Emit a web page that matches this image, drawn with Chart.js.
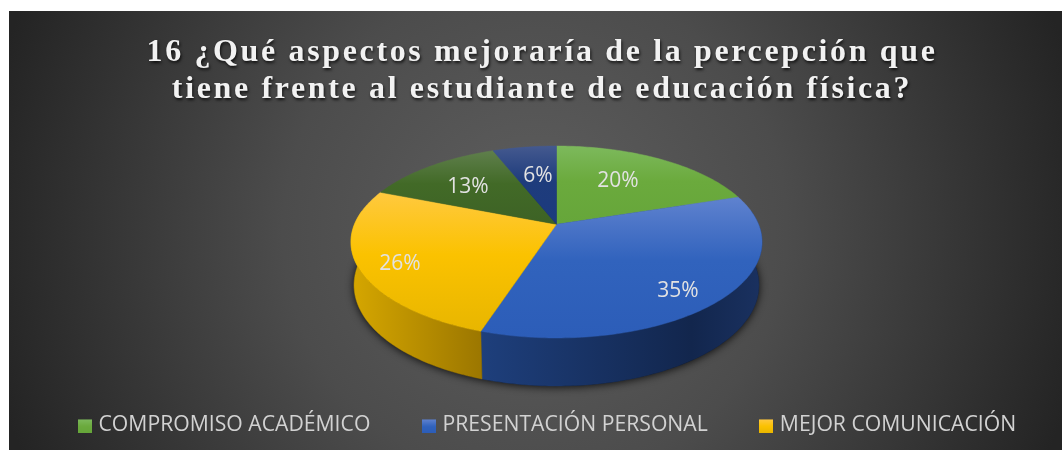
<!DOCTYPE html>
<html><head><meta charset="utf-8">
<style>html,body{margin:0;padding:0;background:#fff}#w{width:1062px;height:450px;position:relative}</style>
<script src="https://cdn.jsdelivr.net/npm/chart.js@4/dist/chart.umd.min.js"></script>
</head><body><div id="w"><canvas id="c" width="1062" height="450"></canvas></div>
<script>
const titleLines = ['16 ¿Qué aspectos mejoraría de la percepción que', 'tiene frente al estudiante de educación física?'];
const categories = ['COMPROMISO ACADÉMICO', 'PRESENTACIÓN PERSONAL', 'MEJOR COMUNICACIÓN', '', ''];
const values = [20, 35, 26, 13, 6];
const baseColors = ['#6BAA3D', '#3163BD', '#FBC200', '#426A27', '#1E3C7C'];
const topColors = ['#7DB95C', '#5F82CF', '#FFC93F', '#5F7F4C', '#44598F'];
const bottomColors = ['#66A63A', '#2C5DB8', '#E8B600', '#3D6225', '#1C3A7E'];
const wallStops = [
  [[0,'#5a8a30'],[1,'#4a7228']],
  [[0,'#1E3F7C'],[0.75,'#12264D'],[1,'#1A3160']],
  [[0,'#D6A700'],[1,'#9C7700']],
  [[0,'#2f4a1b'],[1,'#2f4a1b']],
  [[0,'#14294f'],[1,'#14294f']]
];
const labelOffsets = [[-4,-2],[28.5,24],[-41.5,15],[-9,-1],[2,1]];

// Perspective view of the round pie: apex, semi axes and tilt
const apex = {x: 556.5, y: 224.3};
const A = 202, B = 92.7, P = -0.1844;
const project = (ang, r) => {
  const u = Math.cos(ang) * r, v = Math.sin(ang) * r, d = 1 + P * v;
  return {x: apex.x + A * u / d, y: apex.y + B * v / d, v};
};
const lower = (p) => ({x: apex.x + (p.x - apex.x) * 0.985, y: p.y + 42 + 6 * p.v});
const rim = (a0, a1) => {
  const n = Math.max(2, Math.ceil((a1 - a0) * 60)), pts = [];
  for (let i = 0; i <= n; i++) pts.push(project(a0 + (a1 - a0) * i / n, 1));
  return pts;
};
const trace = (ctx, pts) => { pts.forEach((p, i) => i ? ctx.lineTo(p.x, p.y) : ctx.moveTo(p.x, p.y)); };

// small gradient swatch for a legend entry
const swatch = (i) => {
  const s = document.createElement('canvas');
  s.width = 14; s.height = 16;
  const c = s.getContext('2d');
  const g = c.createLinearGradient(0, 2, 0, 16);
  g.addColorStop(0, topColors[i]); g.addColorStop(0.5, baseColors[i]); g.addColorStop(1, bottomColors[i]);
  c.fillStyle = g; c.fillRect(0, 2, 14, 14);
  return s;
};

const scene = {
  id: 'scene',
  beforeDraw(chart) {
    const ctx = chart.ctx;
    ctx.save();
    ctx.fillStyle = '#fff'; ctx.fillRect(0, 0, 1062, 450);
    const g = ctx.createRadialGradient(535, 230, 0, 535, 230, 560);
    g.addColorStop(0, '#5F5F5F'); g.addColorStop(0.45, '#4c4c4c'); g.addColorStop(1, '#242424');
    ctx.fillStyle = g; ctx.fillRect(9, 11, 1053, 439);
    ctx.restore();
    if (!chart.titleBlock._wrapped) {
      const td = chart.titleBlock.draw.bind(chart.titleBlock);
      chart.titleBlock.draw = function () {
        ctx.save(); ctx.translate(11, 0); ctx.letterSpacing = '2.64px';
        ctx.shadowColor = 'rgba(0,0,0,0.75)'; ctx.shadowBlur = 3; ctx.shadowOffsetX = 1; ctx.shadowOffsetY = 2;
        td(); ctx.restore();
      };
      const ld = chart.legend.draw.bind(chart.legend);
      chart.legend.draw = function () {
        ctx.save(); ctx.translate(18, 0); ld(); ctx.restore();
      };
      chart.titleBlock._wrapped = true;
    }
  },
  beforeDatasetsDraw(chart) {
    const ctx = chart.ctx, arcs = chart.getDatasetMeta(0).data;
    ctx.save();
    // silhouette shadow
    const whole = rim(0, Math.PI * 2);
    ctx.save();
    ctx.shadowColor = 'rgba(0,0,0,0.85)'; ctx.shadowBlur = 9; ctx.shadowOffsetY = 1;
    ctx.fillStyle = '#111';
    ctx.beginPath(); trace(ctx, whole.map(lower)); ctx.closePath(); ctx.fill();
    ctx.restore();
    // walls (only the near half of the rim can show)
    arcs.forEach((arc, i) => {
      const pts = rim(arc.startAngle, arc.endAngle).filter(p => p.v > -0.15);
      if (pts.length < 2) return;
      const low = pts.map(lower).reverse();
      const xs = pts.map(p => p.x);
      const gr = ctx.createLinearGradient(Math.min(...xs), 0, Math.max(...xs), 0);
      wallStops[i].forEach(s => gr.addColorStop(s[0], s[1]));
      ctx.fillStyle = gr; ctx.strokeStyle = gr; ctx.lineWidth = 0.5;
      ctx.beginPath(); trace(ctx, pts.concat(low)); ctx.closePath(); ctx.fill(); ctx.stroke();
    });
    // top faces
    arcs.forEach((arc, i) => {
      const pts = rim(arc.startAngle, arc.endAngle);
      const ys = pts.map(p => p.y).concat(apex.y);
      const top = Math.min(...ys), bot = Math.max(...ys);
      const gr = ctx.createLinearGradient(0, top, 0, bot);
      gr.addColorStop(0, topColors[i]); gr.addColorStop(0.45, baseColors[i]); gr.addColorStop(1, bottomColors[i]);
      ctx.fillStyle = gr; ctx.strokeStyle = gr; ctx.lineWidth = 0.5;
      ctx.beginPath(); ctx.moveTo(apex.x, apex.y); pts.forEach(p => ctx.lineTo(p.x, p.y)); ctx.closePath(); ctx.fill(); ctx.stroke();
    });
    // percentage labels
    const total = values.reduce((s, v) => s + v, 0);
    ctx.fillStyle = '#E2E2E2';
    ctx.font = '21px "Open Sans"';
    ctx.textAlign = 'center'; ctx.textBaseline = 'middle';
    arcs.forEach((arc, i) => {
      const p = project((arc.startAngle + arc.endAngle) / 2, 0.6);
      ctx.fillText(Math.round(values[i] / total * 100) + '%', p.x + labelOffsets[i][0], p.y + labelOffsets[i][1]);
    });
    ctx.restore();
    return false;
  }
};

new Chart(document.getElementById('c'), {
  type: 'pie',
  data: { labels: categories, datasets: [{ data: values, backgroundColor: baseColors, borderWidth: 0 }] },
  options: {
    responsive: false, animation: false,
    layout: { padding: { left: 0, right: 0, top: 34, bottom: 4 } },
    plugins: {
      tooltip: { enabled: false },
      title: {
        display: true, text: titleLines, color: '#F2F2F2',
        font: { family: '"Liberation Serif"', size: 32, weight: 'bold', lineHeight: 1.156 },
        padding: { top: 0, bottom: 10 }
      },
      legend: {
        position: 'bottom',
        labels: {
          color: '#D2D2D2', font: { family: '"Open Sans"', size: 21.2 },
          boxHeight: 14, usePointStyle: true, pointStyleWidth: 6, padding: 55.5,
          generateLabels: (chart) => Chart.overrides.pie.plugins.legend.labels.generateLabels(chart)
            .map((item, i) => Object.assign(item, { pointStyle: swatch(i) })),
          filter: (item) => item.text !== ''
        }
      }
    }
  },
  plugins: [scene]
});
</script></body></html>
